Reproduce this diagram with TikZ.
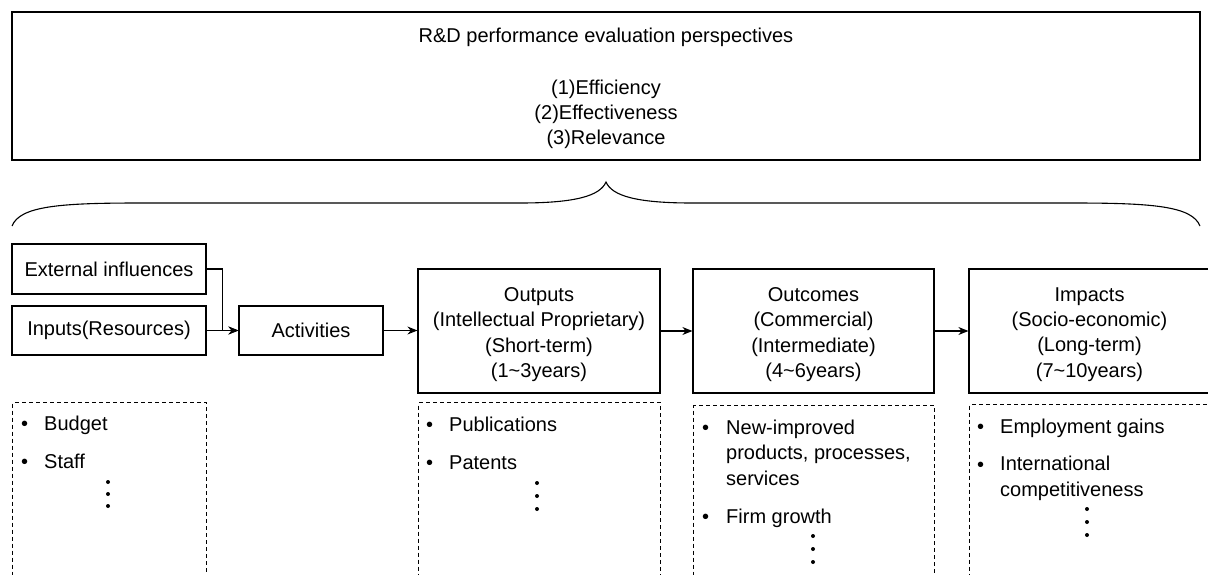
\documentclass[tikz,border=0pt]{standalone}
\usepackage{fontspec}
\setmainfont{Liberation Sans}
\usetikzlibrary{arrows.meta}
\begin{document}
\begin{tikzpicture}[x=1pt,y=-1pt,
  font=\fontsize{20}{25.3}\selectfont,
  box/.style={draw,line width=1.2pt,inner sep=0pt,align=center},
  btext/.style={inner sep=0pt,align=center},
  lbox/.style={draw,line width=1pt,dash pattern=on 4pt off 3pt,inner sep=0pt,anchor=north west,minimum height=220pt},
  arr/.style={line width=1.2pt,-{Stealth[length=10pt,width=8pt]}},
  item/.style={anchor=base west,inner sep=0pt,align=left},
  vdot/.style={circle,fill,inner sep=0pt,minimum size=4pt}]
\useasboundingbox (0,0) rectangle (1208,574);
\clip (0,0) rectangle (1208,574);

% top box
\node[box,minimum width=1188pt,minimum height=148pt] (top) at (606,86) {};
\node[btext] (ttext) at ([yshift=-2.5pt]top.center) {R\&D performance evaluation perspectives\\[26pt](1)Efficiency\\(2)Effectiveness\\(3)Relevance};

% brace
\coordinate (bl) at (12,226);
\coordinate (br) at (1200,226);
\coordinate (bp) at (606,182);
\draw[line width=1.1pt] (bl) .. controls (20,206) and (60,203) .. (140,203) -- (520,203)
  .. controls (575,203) and (600,196) .. (bp)
  .. controls (612,196) and (637,203) .. (692,203) -- (1072,203)
  .. controls (1152,203) and (1192,206) .. (br);

% boxes
\node[box,minimum width=194pt,minimum height=50pt] (ext) at (109,269) {External influences};
\node[box,minimum width=194pt,minimum height=49pt] (inp) at (109,330.5) {Inputs(Resources)};
\node[box,minimum width=144pt,minimum height=49pt] (act) at (311,330.5) {Activities};
\node[box,minimum width=242pt,minimum height=124pt] (out) at (539,331) {};
\node[box,minimum width=241pt,minimum height=124pt] (outc) at (813.5,331) {};
\node[box,minimum width=241pt,minimum height=124pt] (imp) at (1089.5,331) {};
\node[btext] (outt) at ([yshift=-3.5pt]out.center) {Outputs\\(Intellectual Proprietary)\\(Short-term)\\(1\textasciitilde3years)};
\node[btext] (outct) at ([yshift=-3.5pt]outc.center) {Outcomes\\(Commercial)\\(Intermediate)\\(4\textasciitilde6years)};
\node[btext] (impt) at ([yshift=-3.5pt]imp.center) {Impacts\\(Socio-economic)\\(Long-term)\\(7\textasciitilde10years)};

% connectors
\draw[arr] (ext.east) -- ++(16,0) |- (act.west);
\draw[arr] (inp.east) -- (act.west);
\draw[arr] (act.east) -- (act.east -| out.west);
\draw[arr] (out.east) -- (outc.west);
\draw[arr] (outc.east) -- (imp.west);

% dashed lists
\node[lbox,minimum width=194pt] (l1) at (12,402) {};
\node[lbox,minimum width=242pt] (l2) at (418,402) {};
\node[lbox,minimum width=241pt] (l3) at (693,405) {};
\node[lbox,minimum width=250pt] (l4) at (969,404) {};

% list 1
\node[item] (b11) at (21,430) {•};
\node[item] (t11) at (44,430) {Budget};
\node[item] (b12) at (21,468) {•};
\node[item] (t12) at (44,468) {Staff};
\node[vdot] at (108,482) {};
\node[vdot] at (108,494) {};
\node[vdot] at (108,506) {};

% list 2
\node[item] (b21) at (426,431) {•};
\node[item] (t21) at (449,431) {Publications};
\node[item] (b22) at (426,469) {•};
\node[item] (t22) at (449,469) {Patents};
\node[vdot] at (537,483) {};
\node[vdot] at (537,496) {};
\node[vdot] at (537,509) {};

% list 3
\node[item] (b31) at (702,434) {•};
\node[item] (t31) at (726,485) {New-improved\\products, processes,\\services};
\node[item] (b32) at (702,523) {•};
\node[item] (t32) at (726,523) {Firm growth};
\node[vdot] at (813,536) {};
\node[vdot] at (813,549) {};
\node[vdot] at (813,562) {};

% list 4
\node[item] (b41) at (977,433) {•};
\node[item] (t41) at (1000,433) {Employment gains};
\node[item] (b42) at (977,471) {•};
\node[item] (t42) at (1000,496) {International\\competitiveness};
\node[vdot] at (1087,509) {};
\node[vdot] at (1087,522) {};
\node[vdot] at (1087,535) {};
\end{tikzpicture}
\end{document}
